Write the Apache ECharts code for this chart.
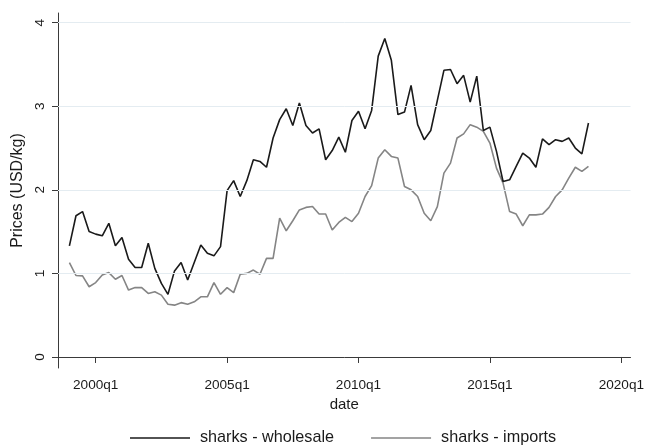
<!DOCTYPE html>
<html>
<head>
<meta charset="utf-8">
<title>sharks prices</title>
<script src="https://cdn.jsdelivr.net/npm/echarts@6/dist/echarts.min.js"></script>
<style>
  html, body { margin: 0; padding: 0; background: #fff; }
  #main { width: 647px; height: 446px; }
</style>
</head>
<body>
<div id="main"></div>
<script>
// quarterly series, 1999q1 .. 2018q4
var firstYear = 1999
var lastYear = 2018

var wholesale = [
    1.33, 1.69, 1.74, 1.50, 1.47, 1.45, 1.60, 1.33, 1.43, 1.17,
    1.07, 1.07, 1.36, 1.06, 0.88, 0.75, 1.03, 1.13, 0.92, 1.13,
    1.34, 1.24, 1.21, 1.32, 1.99, 2.11, 1.92, 2.11, 2.36, 2.34,
    2.27, 2.62, 2.84, 2.97, 2.77, 3.04, 2.77, 2.68, 2.73, 2.36,
    2.47, 2.63, 2.45, 2.83, 2.94, 2.73, 2.95, 3.60, 3.81, 3.55,
    2.90, 2.93, 3.25, 2.78, 2.60, 2.71, 3.07, 3.43, 3.44, 3.27,
    3.37, 3.05, 3.36, 2.71, 2.75, 2.46, 2.10, 2.12, 2.28, 2.44,
    2.38, 2.27, 2.61, 2.54, 2.60, 2.58, 2.62, 2.50, 2.43, 2.80
]

var imports = [
    1.13, 0.975, 0.97, 0.84, 0.89, 0.98, 1.01, 0.93, 0.975, 0.80,
    0.83, 0.83, 0.76, 0.78, 0.74, 0.63, 0.62, 0.65, 0.63, 0.66,
    0.72, 0.72, 0.89, 0.75, 0.83, 0.77, 0.99, 1.00, 1.04, 0.99,
    1.18, 1.18, 1.66, 1.51, 1.63, 1.76, 1.79, 1.80, 1.71, 1.71,
    1.52, 1.61, 1.67, 1.62, 1.72, 1.92, 2.05, 2.38, 2.48, 2.40,
    2.38, 2.04, 2.00, 1.92, 1.72, 1.63, 1.80, 2.20, 2.32, 2.62,
    2.67, 2.78, 2.75, 2.70, 2.56, 2.26, 2.08, 1.74, 1.71, 1.57,
    1.70, 1.70, 1.71, 1.79, 1.92, 2.00, 2.14, 2.27, 2.22, 2.28
]

var xTicks = [2000, 2005, 2010, 2015, 2020]
var yTicks = [0, 1, 2, 3, 4]
var gridValues = [1, 2, 3, 4]
var seriesNames = ['sharks - wholesale', 'sharks - imports']

// numeric time for each quarter (year + fraction)
var dates = []
for (var y = firstYear; y <= lastYear; y++) {
    for (var q = 1; q <= 4; q++) {
        dates.push(y + (q - 1) / 4)
    }
}

function pairs(values) {
    return values.map(function (v, i) { return [dates[i], v] })
}

var font = 'Liberation Sans, Arial, sans-serif'
var textColor = '#1a1a1a'
var axisColor = '#3a3a3a'

var chart = echarts.init(document.getElementById('main'), null, { renderer: 'canvas' })

var option = {
    animation: false,
    backgroundColor: '#ffffff',
    textStyle: { fontFamily: font },
    grid: { left: 58, right: 12, top: 13, bottom: 78, containLabel: false },
    legend: {
        data: seriesNames,
        icon: 'rect',
        left: 130,
        top: 430,
        padding: 0,
        itemWidth: 60,
        itemHeight: 1.6,
        itemGap: 37,
        textStyle: { fontFamily: font, fontSize: 16.2, color: textColor, padding: [0, 0, 0, 5] }
    },
    xAxis: {
        type: 'value',
        min: 1998.566,
        max: 2020.35,
        name: 'date',
        nameLocation: 'middle',
        nameGap: 27,
        nameTextStyle: { fontFamily: font, fontSize: 15, color: textColor },
        axisLine: { show: true, lineStyle: { color: axisColor, width: 1 } },
        axisTick: { show: true, length: 6, customValues: xTicks, lineStyle: { color: axisColor } },
        axisLabel: {
            customValues: xTicks,
            margin: 10,
            fontFamily: font,
            fontSize: 13.6,
            color: textColor,
            formatter: function (v) { return Math.round(v) + 'q1' }
        },
        splitLine: { show: false }
    },
    yAxis: {
        type: 'value',
        min: -0.132,
        max: 4.116,
        name: 'Prices (USD/kg)',
        nameLocation: 'middle',
        nameGap: 23,
        nameTextStyle: { fontFamily: font, fontSize: 16, color: textColor },
        axisLine: { show: true, lineStyle: { color: axisColor, width: 1 } },
        axisTick: { show: true, length: 6, customValues: yTicks, lineStyle: { color: axisColor } },
        axisLabel: {
            customValues: yTicks,
            rotate: 90,
            margin: 11,
            fontFamily: font,
            fontSize: 13.6,
            color: textColor
        },
        splitLine: { show: false }
    },
    series: [
        {
            name: 'grid',
            type: 'line',
            data: [],
            z: 1,
            silent: true,
            markLine: {
                silent: true,
                symbol: 'none',
                label: { show: false },
                lineStyle: { color: '#e4ecf1', width: 1, type: 'solid' },
                data: gridValues.map(function (v) { return { yAxis: v } })
            }
        },
        {
            name: seriesNames[0],
            type: 'line',
            data: pairs(wholesale),
            symbol: 'none',
            z: 3,
            color: '#1a1a1a',
            lineStyle: { color: '#1a1a1a', width: 1.6 }
        },
        {
            name: seriesNames[1],
            type: 'line',
            data: pairs(imports),
            symbol: 'none',
            z: 2,
            color: '#858585',
            lineStyle: { color: '#858585', width: 1.6 }
        }
    ]
}

chart.setOption(option)
</script>
</body>
</html>
